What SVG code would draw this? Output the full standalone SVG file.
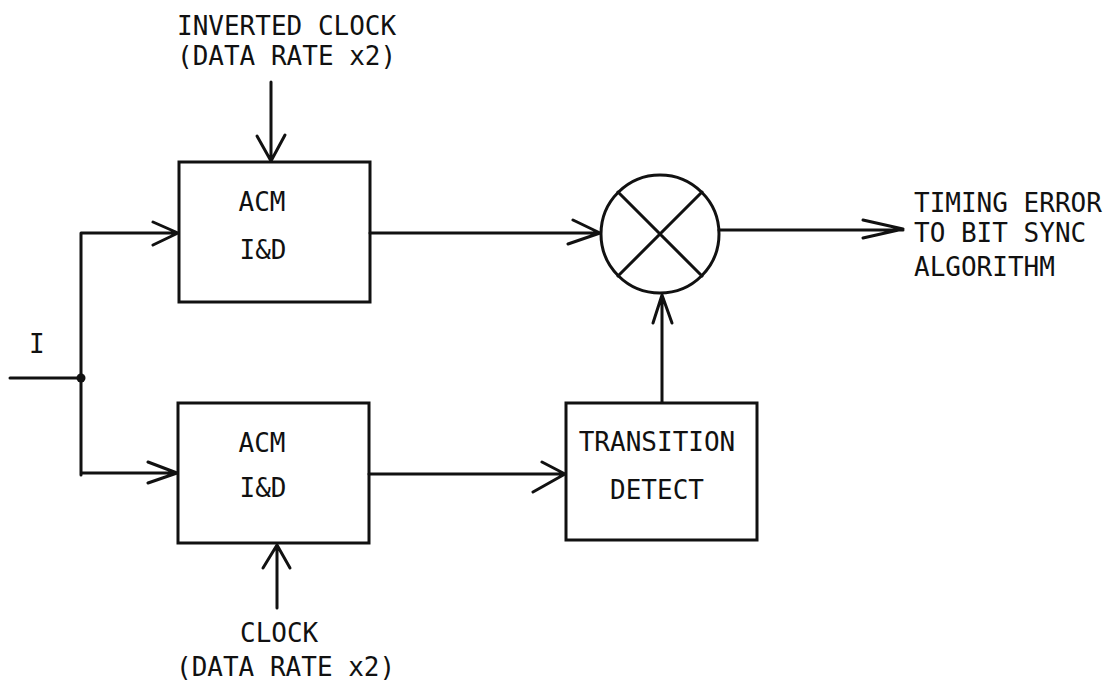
<svg xmlns="http://www.w3.org/2000/svg" width="1111" height="682" viewBox="0 0 1111 682">
<style>
.t{font-family:"DejaVu Sans Mono","Liberation Mono",monospace;font-size:26px;fill:#111}
.m{text-anchor:middle}
.b{fill:#fff;stroke:#111;stroke-width:3}
.l{fill:none;stroke:#111;stroke-width:3;stroke-linecap:round;stroke-linejoin:round}
</style>
<rect width="1111" height="682" fill="#fff"/>
<g id="labels">
<text class="t" x="177" y="35">INVERTED CLOCK</text>
<text class="t" x="177" y="65">(DATA RATE x2)</text>
<text class="t" x="29" y="353">I</text>
<text class="t" x="240" y="642">CLOCK</text>
<text class="t" x="176" y="676">(DATA RATE x2)</text>
<text class="t" x="914" y="212">TIMING ERROR</text>
<text class="t" x="914" y="242">TO BIT SYNC</text>
<text class="t" x="914" y="276">ALGORITHM</text>
</g>
<g id="acm-top">
<rect class="b" x="179" y="162" width="191" height="140"/>
<text class="t m" x="262" y="211">ACM</text>
<text class="t m" x="263" y="259">I&amp;D</text>
</g>
<g id="acm-bottom">
<rect class="b" x="178" y="403" width="191" height="140"/>
<text class="t m" x="262" y="452">ACM</text>
<text class="t m" x="263" y="497">I&amp;D</text>
</g>
<g id="transition-detect">
<rect class="b" x="566" y="403" width="191" height="137"/>
<text class="t m" x="657" y="451">TRANSITION</text>
<text class="t m" x="657" y="499">DETECT</text>
</g>
<g id="multiplier">
<circle class="b" cx="660" cy="234" r="59"/>
<path class="l" d="M618 192 L702 276 M702 192 L618 276"/>
</g>
<g id="connectors">
<path class="l" d="M10 378 H81 M81 233 V475 M81 233 H178 M153 222 L178 233 L153 245 M81 473 H177 M148 462 L177 473 L148 483"/>
<circle cx="81" cy="378" r="4.5" fill="#111"/>
<path class="l" d="M271 82 V161 M257 136 L271 161 L285 135"/>
<path class="l" d="M277 608 V545 M263 568 L277 545 L290 568"/>
<path class="l" d="M370 233 H600 M573 220 L600 233 L568 244"/>
<path class="l" d="M369 474 H565 M542 462 L565 474 L533 492"/>
<path class="l" d="M662 402 V295 M653 323 L662 295 L672 323"/>
<path class="l" d="M719 230 H903 M863 220 L903 229 L863 238"/>
</g>
</svg>
